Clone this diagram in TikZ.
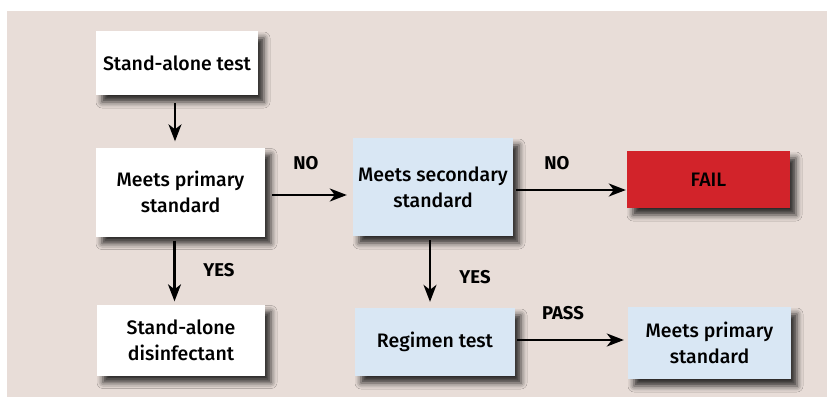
\documentclass[tikz,border=0pt]{standalone}
\usepackage{fontspec}
\setmainfont{Fira Sans}[UprightFont=* Medium, BoldFont=* Bold]
\usetikzlibrary{arrows.meta,shadows.blur}
\definecolor{bgbeige}{HTML}{E8DDD8}
\definecolor{boxblue}{HTML}{D9E7F4}
\definecolor{failred}{HTML}{D2232A}

\begin{document}
\begin{tikzpicture}[x=1pt,y=-1pt,
	box/.style={fill=white, align=center, inner sep=0pt, font=\fontsize{19.5}{26}\selectfont,
		blur shadow={shadow xshift=6pt, shadow yshift=-7pt, shadow blur radius=6pt, shadow opacity=80}},
	bluebox/.style={box, fill=boxblue},
	redbox/.style={box, fill=failred},
	arr/.style={-{Stealth[length=17pt,width=13pt,inset=5pt]}, line width=2.1pt},
	lbl/.style={font=\bfseries\fontsize{18.5}{22}\selectfont}]
	% page and background
	\useasboundingbox (0,0) rectangle (827,397);
	\fill[white] (0,0) rectangle (827,397);
	\fill[bgbeige] (7,11) rectangle (827,397);
	% boxes
	\node[box, minimum width=162pt, minimum height=64pt] (test) at (177,63) {Stand-alone test};
	\node[box, minimum width=169pt, minimum height=89pt] (primary) at (180.5,192) {Meets primary\\standard};
	\node[box, minimum width=168pt, minimum height=71pt] (disinf) at (181,340) {Stand-alone\\disinfectant};
	\node[bluebox, minimum width=160pt, minimum height=98pt] (secondary) at (433,187) {Meets secondary\\standard};
	\node[redbox, minimum width=163pt, minimum height=57pt] (fail) at (708.5,179.5) {FAIL};
	\node[bluebox, minimum width=160pt, minimum height=68pt] (regimen) at (435,342) {Regimen test};
	\node[bluebox, minimum width=163pt, minimum height=72pt] (primary2) at (709.5,343) {Meets primary\\standard};
	% connectors
	\draw[arr, shorten <=8pt, shorten >=6pt] ([xshift=-2pt]test.south) -- ([xshift=-2pt]test.south |- primary.north);
	\draw[arr, shorten <=4pt, shorten >=3pt] ([xshift=-6pt]primary.south) -- ([xshift=-6pt]primary.south |- disinf.north);
	\draw[arr, shorten <=7pt, shorten >=6pt] ([yshift=-3pt]primary.east) -- ([yshift=-3pt]primary.east -| secondary.west);
	\draw[arr, shorten <=3pt, shorten >=1pt] ([yshift=-3pt]secondary.east) -- ([yshift=-3pt]secondary.east -| fail.west);
	\draw[arr, shorten <=4pt, shorten >=6pt] ([xshift=-3pt]secondary.south) -- ([xshift=-3pt]secondary.south |- regimen.north);
	\draw[arr, shorten <=2pt, shorten >=4pt] ([yshift=2pt]regimen.east) -- ([yshift=2pt]regimen.east -| primary2.west);
	% labels
	\node[lbl] (no1) at (306,163) {NO};
	\node[lbl] (no2) at (557,163) {NO};
	\node[lbl] (yes1) at (219,270) {YES};
	\node[lbl] (yes2) at (475,277) {YES};
	\node[lbl] (pass) at (563,313) {PASS};
\end{tikzpicture}
\end{document}
